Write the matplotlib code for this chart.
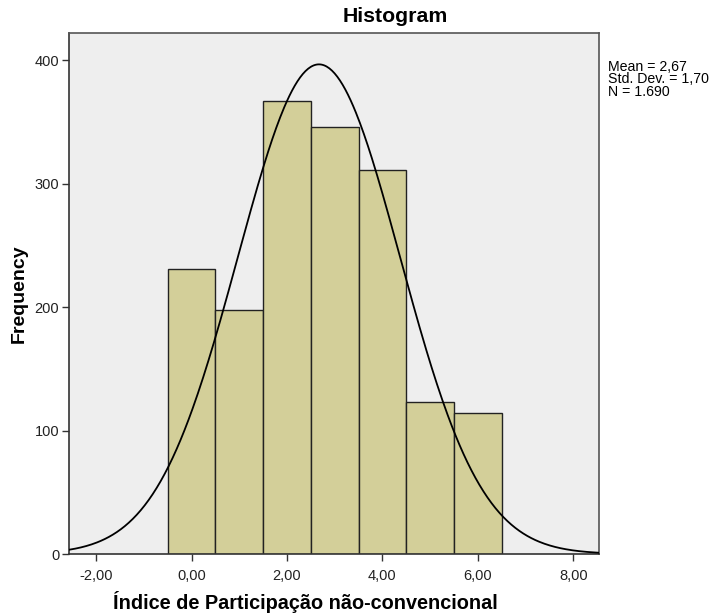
import numpy as np
import matplotlib.pyplot as plt

# Contagens por classe do índice (valores inteiros 0..6)
valores = [0, 1, 2, 3, 4, 5, 6]
frequencias = [231, 198, 367, 346, 311, 123, 114]
media = 2.67
desvio = 1.70
n_total = 1690
xticks = [-2, 0, 2, 4, 6, 8]
xtick_labels = ['-2,00', '0,00', '2,00', '4,00', '6,00', '8,00']
yticks = [0, 100, 200, 300, 400]

plt.rcParams['font.family'] = ['Liberation Sans', 'DejaVu Sans']

fig = plt.figure(figsize=(7.12, 6.14), dpi=100)
ax = fig.add_axes([69 / 712, 1 - 554 / 614, 530 / 712, 521 / 614])
ax.set_facecolor('#eeeeee')

ax.bar(valores, frequencias, width=1.0, color='#d3cf99', edgecolor='#222222',
       linewidth=1.0, zorder=2)

# Curva normal ajustada (escala de contagem, largura de classe = 1)
xlim = (-2.57, 8.54)
xs = np.linspace(xlim[0], xlim[1], 400)
ys = n_total / (desvio * np.sqrt(2 * np.pi)) * np.exp(-0.5 * ((xs - media) / desvio) ** 2)
ax.plot(xs, ys, color='black', linewidth=1.3, zorder=3)

ax.set_xlim(*xlim)
ax.set_ylim(0, 422)
ax.set_xticks(xticks)
ax.set_xticklabels(xtick_labels)
ax.set_yticks(yticks)
ax.tick_params(axis='both', direction='out', length=5, width=1, color='#333333',
               labelsize=10.5, labelcolor='#222222')
ax.tick_params(axis='x', pad=6)
ax.tick_params(axis='y', pad=2)
for s in ax.spines.values():
    s.set_color('#555555')
    s.set_linewidth(1.2)
ax.spines['left'].set_color('#333333')
ax.spines['bottom'].set_color('#333333')

fig.text(305 / 712, 1 - 602 / 614, 'Índice de Participação não-convencional',
         ha='center', va='center', fontsize=14.3, fontweight='bold')
fig.text(19 / 712, 1 - 294 / 614, 'Frequency', ha='center', va='center',
         rotation=90, fontsize=14, fontweight='bold')

fig.text(395 / 712, 1 - 17 / 614, 'Histogram', ha='center', va='center',
         fontsize=15.3, fontweight='bold')
fig.text(608 / 712, 1 - 60 / 614,
         'Mean = 2,67\nStd. Dev. = 1,70\nN = 1.690',
         ha='left', va='top', fontsize=10.2, linespacing=0.85)

fig.savefig('out.png', dpi=100)
